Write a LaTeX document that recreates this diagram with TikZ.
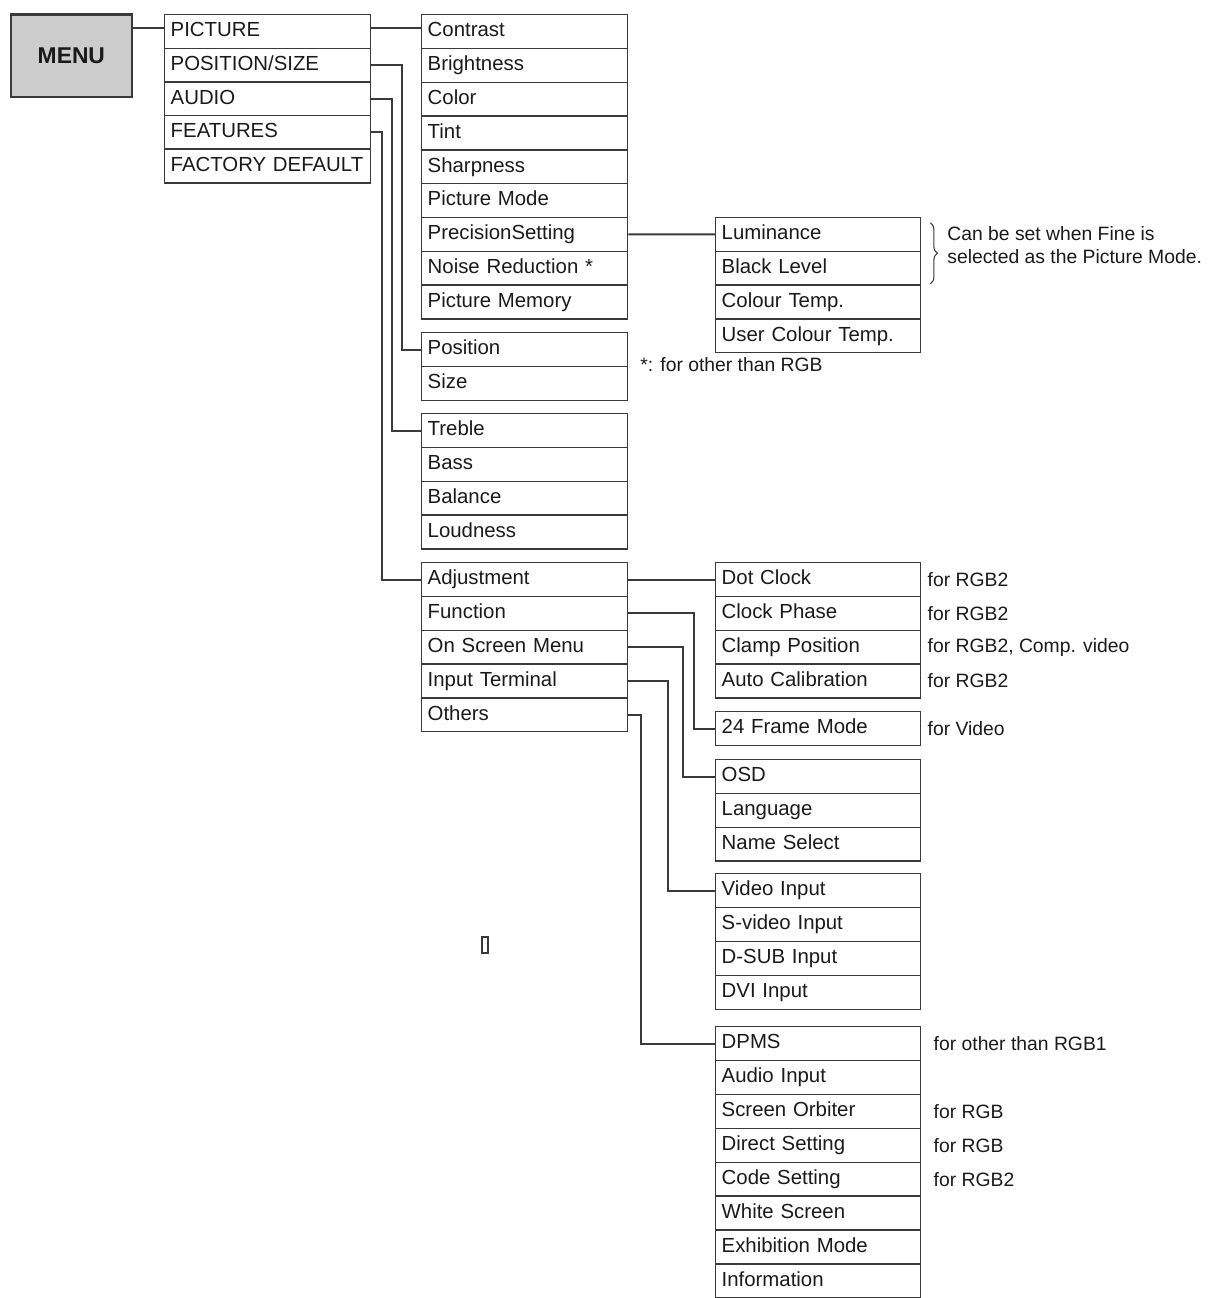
\documentclass[tikz,border=0pt]{standalone}
\usepackage{fontspec}
\setmainfont{Liberation Sans}
\usepackage{tikz}
\usetikzlibrary{positioning, calc, decorations.pathreplacing}

\definecolor{line}{HTML}{3A3A3A}
\definecolor{ink}{HTML}{1A1A1A}
\definecolor{menufill}{HTML}{CCCCCC}

\tikzset{
    item/.style={draw=line, line width=0.8pt, anchor=north west, text=ink,
        minimum height=0.676cm, text width=3.88cm, inner xsep=0.12cm, inner ysep=0pt,
        align=left, text height=8.6pt, text depth=2.6pt,
        font=\fontsize{11.6pt}{14pt}\selectfont},
    subitem/.style={item, text width=3.86cm},
    note/.style={anchor=west, inner sep=0pt, text=ink, font=\fontsize{11pt}{13pt}\selectfont},
    link/.style={draw=line, line width=1.1pt},
}

\begin{document}
\begin{tikzpicture}[x=0.02cm, y=-0.02cm]
    \useasboundingbox (0,0) rectangle (1215,1298);

    % main menu
    \node[draw=line, line width=1pt, fill=menufill, anchor=north west,
          minimum width=2.42cm, minimum height=1.64cm, text=ink,
          font=\fontsize{13pt}{15pt}\selectfont\bfseries] (menu) at (10,14) {MENU};
    \draw[line, line width=1.6pt] (menu.north west) -- (menu.north east);
    \foreach \t [count=\i] in {PICTURE, POSITION/SIZE, AUDIO, FEATURES, FACTORY DEFAULT}
        \node[item] (top-\i) at (164, {14+33.6*(\i-1)}) {\t};

    % second column
    \foreach \t [count=\i] in {Contrast, Brightness, Color, Tint, Sharpness, Picture Mode,
                               PrecisionSetting, Noise Reduction *, Picture Memory}
        \node[item] (pic-\i) at (421, {14+33.8*(\i-1)}) {\t};
    \foreach \t [count=\i] in {Position, Size}
        \node[item] (pos-\i) at (421, {332+33.8*(\i-1)}) {\t};
    \foreach \t [count=\i] in {Treble, Bass, Balance, Loudness}
        \node[item] (aud-\i) at (421, {413+33.8*(\i-1)}) {\t};
    \foreach \t [count=\i] in {Adjustment, Function, On Screen Menu, Input Terminal, Others}
        \node[item] (feat-\i) at (421, {562+33.8*(\i-1)}) {\t};

    % third column
    \foreach \t [count=\i] in {Luminance, Black Level, Colour Temp., User Colour Temp.}
        \node[subitem] (prec-\i) at (715, {216.8+33.8*(\i-1)}) {\t};
    \foreach \t [count=\i] in {Dot Clock, Clock Phase, Clamp Position, Auto Calibration}
        \node[subitem] (adj-\i) at (715, {562+33.8*(\i-1)}) {\t};
    \node[subitem] (func-1) at (715,711) {24 Frame Mode};
    \foreach \t [count=\i] in {OSD, Language, Name Select}
        \node[subitem] (osm-\i) at (715, {759+33.8*(\i-1)}) {\t};
    \foreach \t [count=\i] in {Video Input, S-video Input, D-SUB Input, DVI Input}
        \node[subitem] (term-\i) at (715, {873+33.9*(\i-1)}) {\t};
    \foreach \t [count=\i] in {DPMS, Audio Input, Screen Orbiter, Direct Setting, Code Setting,
                               White Screen, Exhibition Mode, Information}
        \node[subitem] (oth-\i) at (715, {1026+33.9*(\i-1)}) {\t};

    % connectors
    \draw[link] (menu.east |- 0,28) -- (top-1.west |- 0,28);
    \draw[link] (top-1.east |- 0,28) -- (pic-1.west |- 0,28);
    \draw[link] (top-2.east) -- ++(31,0) |- (pos-1.west);
    \draw[link] (top-3.east) -- ++(21,0) |- (aud-1.west);
    \draw[link] (top-4.east) -- ++(11,0) |- (feat-1.west);
    \draw[link] (pic-7.east) -- (prec-1.west);
    \draw[link] (feat-1.east) -- (adj-1.west);
    \draw[link] (feat-2.east) -- ++(66,0) |- (func-1.west);
    \draw[link] (feat-3.east) -- ++(55,0) |- (osm-1.west);
    \draw[link] (feat-4.east) -- ++(40,0) |- (term-1.west);
    \draw[link] (feat-5.east) -- ++(13,0) |- (oth-1.west);

    % notes
    \draw[line, line width=0.6pt, decorate, decoration={brace, amplitude=4pt}]
        ($(prec-1.north east)+(9,6)$) -- ($(prec-2.south east)+(9,-2)$);
    \node[note, align=left, font=\fontsize{11pt}{13pt}\selectfont] (finenote) at (947,245.5)
        {Can be set when Fine is\\selected as the Picture Mode.};
    \node[note] (starnote) at (640,365) {*: for other than RGB};
    \foreach \i/\t in {1/for RGB2, 2/for RGB2, 3/{for RGB2, Comp. video}, 4/for RGB2}
        \node[note, right=0.12cm of adj-\i] (adjnote-\i) {\t};
    \node[note, right=0.12cm of func-1] (funcnote) {for Video};
    \foreach \i/\t in {1/for other than RGB1, 3/for RGB, 4/for RGB, 5/for RGB2}
        \node[note, right=0.24cm of oth-\i] (othnote-\i) {\t};

    % stray glyph box
    \draw[line, line width=0.6pt] (482,937) rectangle (488,953);
\end{tikzpicture}
\end{document}
